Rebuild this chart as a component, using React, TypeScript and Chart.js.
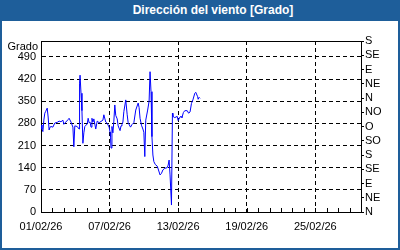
import React, { useEffect, useRef } from "react";
import { Chart, registerables } from "chart.js";

Chart.register(...registerables);

const chartTitle = "Dirección del viento [Grado]";
const unitLabel = "Grado";

// hours since 01/02/26 00:00
const hours = [
  0, 2, 4, 6, 8, 10, 13, 15, 17, 19, 21, 25, 29, 34, 38, 42, 46, 48, 52, 57, 59, 63, 67, 69, 71, 76, 80, 81, 82, 84,
  86, 88, 90, 92, 97, 99, 101, 103, 105, 107, 109, 111, 115, 118, 122, 126, 130, 132, 136, 139, 143, 145, 146, 147,
  149, 151, 153, 155, 157, 160, 162, 166, 168, 170, 172, 174, 178, 181, 183, 188, 191, 195, 199, 204, 206, 208, 211,
  214, 216, 218, 220, 224, 227, 229, 231, 233, 235, 237, 240, 244, 246, 250, 253, 256, 260, 265, 267, 269, 271, 274,
  276, 277, 281, 286, 288, 292, 294, 296, 299, 302, 307, 310, 313, 316, 319, 323, 325, 329, 330, 332, 334,
];

const direction = [
  275, 262, 254, 290, 312, 318, 328, 300, 259, 268, 270, 268, 281, 283, 287, 285, 290, 277, 284, 292, 296, 284, 268,
  206, 272, 270, 262, 407, 432, 375, 320, 217, 250, 270, 278, 296, 282, 284, 268, 296, 284, 294, 262, 287, 282, 286,
  290, 307, 284, 280, 268, 252, 236, 202, 270, 250, 287, 338, 305, 294, 272, 257, 272, 276, 284, 317, 354, 307, 282,
  268, 276, 282, 322, 344, 330, 296, 274, 262, 252, 175, 290, 322, 350, 443, 380, 238, 180, 159, 150, 145, 136, 117,
  122, 133, 138, 140, 148, 164, 117, 22, 312, 302, 298, 302, 289, 300, 302, 298, 314, 320, 320, 312, 316, 343, 354,
  375, 378, 364, 356, 362, 359,
];

const leftTicks = [0, 70, 140, 210, 280, 350, 420, 490];
const compassTicks = [0, 45, 90, 135, 180, 225, 270, 315, 360, 405, 450, 495, 540];
const compassLabels = ["N", "NE", "E", "SE", "S", "SO", "O", "NO", "N", "NE", "E", "SE", "S"];
const dateLabelHours = [0, 144, 288, 432, 576];
const dateLabels = ["01/02/26", "07/02/26", "13/02/26", "19/02/26", "25/02/26"];

const FONT = "'Liberation Sans', Arial, sans-serif";

export default function App() {
  const ref = useRef<HTMLCanvasElement | null>(null);

  useEffect(() => {
    document.body.style.margin = "0";
    const canvas = ref.current;
    if (!canvas) return;

    const frame = {
      id: "frame",
      afterDraw(chart: any) {
        const { ctx, chartArea } = chart;
        const xs = chart.scales.x;
        ctx.save();
        ctx.strokeStyle = "#000";
        ctx.lineWidth = 1;
        ctx.beginPath();
        const t = Math.round(chartArea.top) + 0.5;
        ctx.moveTo(Math.round(chartArea.left), t);
        ctx.lineTo(Math.round(chartArea.right) + 1, t);
        // minor daily ticks inside
        for (let h = 24; h < 672; h += 24) {
          const px = Math.round(xs.getPixelForValue(h)) + 0.5;
          ctx.moveTo(px, chartArea.bottom);
          ctx.lineTo(px, chartArea.bottom - 4);
        }
        ctx.stroke();
        ctx.fillStyle = "#000";
        ctx.font = `11px ${FONT}`;
        ctx.textAlign = "right";
        ctx.textBaseline = "middle";
        ctx.fillText(unitLabel, chartArea.left - 3, chartArea.top + 6);
        ctx.restore();
      },
    };

    const chart = new Chart(canvas, {
      type: "line",
      data: {
        datasets: [
          {
            data: hours.map((h, i) => ({ x: h, y: direction[i] })),
            borderColor: "#0000ff",
            borderWidth: 1,
            pointRadius: 0,
            tension: 0,
            fill: false,
            yAxisID: "y",
          },
        ],
      },
      options: {
        animation: false,
        responsive: false,
        devicePixelRatio: 1,
        layout: { padding: { top: 20, left: 0, right: 0, bottom: 0 } },
        plugins: { legend: { display: false }, tooltip: { enabled: false }, title: { display: false } },
        scales: {
          x: {
            type: "linear",
            position: "bottom",
            min: 0,
            max: 672,
            afterBuildTicks: (s: any) => {
              s.ticks = dateLabelHours.map((v) => ({ value: v }));
            },
            afterFit: (s: any) => {
              s.height = 36;
            },
            ticks: {
              autoSkip: false,
              maxRotation: 0,
              padding: 8,
              color: "#000",
              font: { family: FONT, size: 11 },
              callback: (v: any) => {
                const i = dateLabelHours.indexOf(Number(v));
                return i >= 0 ? dateLabels[i] : "";
              },
            },
            grid: { color: "#000", lineWidth: 1, drawTicks: false },
            border: { display: true, color: "#000", width: 1, dash: [4, 3] },
          },
          y: {
            position: "left",
            min: 0,
            max: 540,
            afterBuildTicks: (s: any) => {
              s.ticks = leftTicks.map((v) => ({ value: v }));
            },
            afterFit: (s: any) => {
              s.width = 39;
            },
            ticks: {
              autoSkip: false,
              padding: 5,
              color: "#000",
              font: { family: FONT, size: 11 },
            },
            grid: { color: "#000", lineWidth: 1, drawTicks: false },
            border: { display: true, color: "#000", width: 1, dash: [4, 3] },
          },
          y2: {
            position: "right",
            min: 0,
            max: 540,
            afterBuildTicks: (s: any) => {
              s.ticks = compassTicks.map((v) => ({ value: v }));
            },
            afterFit: (s: any) => {
              s.width = 37;
            },
            ticks: {
              autoSkip: false,
              padding: 1,
              color: "#000",
              font: { family: FONT, size: 11 },
              callback: (v: any) => {
                const i = compassTicks.indexOf(Number(v));
                return i >= 0 ? compassLabels[i] : "";
              },
            },
            grid: { drawOnChartArea: false, drawTicks: true, tickLength: 3, tickColor: "#000" },
            border: { display: true, color: "#000", width: 1 },
          },
        },
      },
      plugins: [frame],
    });

    return () => chart.destroy();
  }, []);

  return (
    <div
      style={{
        position: "fixed",
        left: 0,
        top: 0,
        width: 400,
        height: 250,
        background: "#1e5e9a",
        overflow: "hidden",
      }}
    >
      <div
        style={{
          position: "absolute",
          left: 0,
          top: 0,
          width: 400,
          height: 21,
          boxSizing: "border-box",
          paddingLeft: 26,
          textAlign: "center",
          color: "#fff",
          fontFamily: FONT,
          fontWeight: "bold",
          fontSize: 12,
          lineHeight: "21px",
        }}
      >
        {chartTitle}
      </div>
      <div style={{ position: "absolute", left: 2, top: 21, width: 396, height: 227, background: "#fff" }}>
        <canvas ref={ref} width={396} height={227} style={{ display: "block", width: 396, height: 227 }} />
      </div>
    </div>
  );
}
